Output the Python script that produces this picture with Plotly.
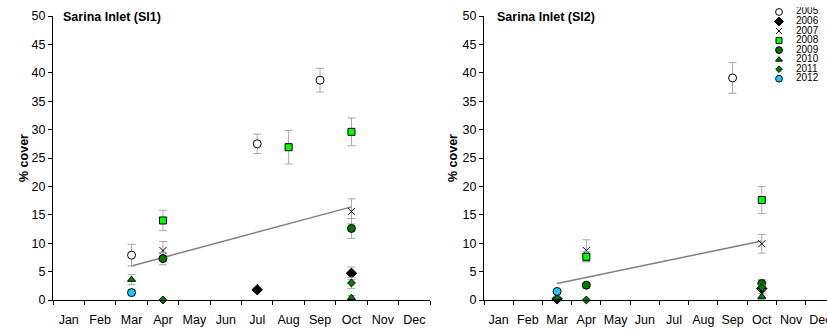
import plotly.graph_objects as go

months = ['Jan', 'Feb', 'Mar', 'Apr', 'May', 'Jun', 'Jul', 'Aug', 'Sep', 'Oct', 'Nov', 'Dec']
years = ['2005', '2006', '2007', '2008', '2009', '2010', '2011', '2012']

# Sarina Inlet (SI1)
si1_x = {'2005': ['Mar', 'Jul', 'Sep'], '2006': ['Jul', 'Oct'], '2007': ['Apr', 'Oct'],
         '2008': ['Apr', 'Aug', 'Oct'], '2009': ['Apr', 'Oct'], '2010': ['Mar', 'Oct'],
         '2011': ['Apr', 'Oct'], '2012': ['Mar']}
si1_y = {'2005': [7.9, 27.5, 38.7], '2006': [1.8, 4.7], '2007': [8.7, 15.6],
         '2008': [14.0, 26.9, 29.6], '2009': [7.3, 12.6], '2010': [3.6, 0.4],
         '2011': [0.0, 3.0], '2012': [1.3]}
si1_err = {'2005': [1.9, 1.7, 2.1], '2006': [0.3, 1.1], '2007': [1.6, 2.2],
           '2008': [1.8, 2.95, 2.45], '2009': [1.1, 1.75], '2010': [0.9, 0.4],
           '2011': [0.0, 1.0], '2012': [0.4]}
si1_trend_x = ['Mar', 'Oct']
si1_trend_y = [6.0, 16.4]

# Sarina Inlet (SI2)
si2_x = {'2005': ['Sep'], '2006': ['Mar', 'Oct'], '2007': ['Apr', 'Oct'],
         '2008': ['Apr', 'Oct'], '2009': ['Apr', 'Oct'], '2010': ['Mar', 'Oct'],
         '2011': ['Apr', 'Oct'], '2012': ['Mar']}
si2_y = {'2005': [39.1], '2006': [0.2, 2.0], '2007': [8.7, 9.9],
         '2008': [7.6, 17.6], '2009': [2.6, 2.9], '2010': [0.4, 0.6],
         '2011': [0.0, 2.2], '2012': [1.5]}
si2_err = {'2005': [2.7], '2006': [0.1, 0.4], '2007': [1.9, 1.65],
           '2008': [0.9, 2.35], '2009': [0.3, 0.7], '2010': [0.2, 0.5],
           '2011': [0.0, 0.4], '2012': [0.3]}
si2_trend_x = ['Mar', 'Oct']
si2_trend_y = [2.9, 10.4]

# marker style per year: symbol, fill, size
style = {
    '2005': ('circle', 'white', 8),
    '2006': ('diamond', 'black', 8),
    '2007': ('x-thin-open', 'black', 7),
    '2008': ('square', '#00ff00', 7),
    '2009': ('circle', '#007800', 8),
    '2010': ('triangle-up', '#008000', 7),
    '2011': ('diamond', '#008000', 6),
    '2012': ('circle', '#1ec8f8', 8),
}

font = 'Liberation Sans, Arial, sans-serif'
fig = go.Figure()


def marker_of(yr, scale=1.0):
    sym, col, size = style[yr]
    if sym == 'x-thin-open':
        return dict(symbol=sym, size=size * scale, color='black', line=dict(color='black', width=1))
    return dict(symbol=sym, size=size * scale, color=col, line=dict(color='black', width=1))


for xs, ys, es, tx, ty, xa, ya in [
        (si1_x, si1_y, si1_err, si1_trend_x, si1_trend_y, 'x', 'y'),
        (si2_x, si2_y, si2_err, si2_trend_x, si2_trend_y, 'x2', 'y2')]:
    fig.add_trace(go.Scatter(x=tx, y=ty, mode='lines', line=dict(color='#808080', width=1.5),
                             xaxis=xa, yaxis=ya, showlegend=False, hoverinfo='skip'))
    for yr in years:
        fig.add_trace(go.Scatter(
            x=xs[yr], y=ys[yr], mode='markers', name=yr, xaxis=xa, yaxis=ya,
            marker=marker_of(yr), showlegend=False, cliponaxis=False,
            error_y=dict(type='data', array=es[yr], color='#a8a8a8', thickness=1, width=4)))

# small legend drawn on its own hidden axes
legend_pos = list(range(len(years)))
for i, yr in enumerate(years):
    fig.add_trace(go.Scatter(x=[19], y=[legend_pos[i]], mode='markers', marker=marker_of(yr, 0.85),
                             xaxis='x3', yaxis='y3', showlegend=False, hoverinfo='skip'))
fig.add_trace(go.Scatter(x=[36] * len(years), y=legend_pos, mode='text', text=years,
                         textposition='middle right', textfont=dict(size=10, color='black', family=font),
                         xaxis='x3', yaxis='y3', showlegend=False, hoverinfo='skip'))

xcommon = dict(type='category', categoryorder='array', categoryarray=months,
               tickson='boundaries', ticks='outside', ticklen=4, tickcolor='black',
               tickangle=0, automargin=False, ticklabelstandoff=8,
               showline=True, linecolor='black', linewidth=1, showgrid=False, zeroline=False,
               tickfont=dict(size=12.5, color='black', family=font))
ycommon = dict(range=[0, 50], dtick=5, ticks='outside', ticklen=4, tickcolor='black',
               automargin=False,
               showline=True, linecolor='black', linewidth=1, showgrid=False, zeroline=False,
               domain=[0, 284 / 300], tickfont=dict(size=12.5, color='black', family=font))

fig.update_layout(
    width=827, height=331,
    margin=dict(l=0, r=0, t=0, b=31),
    paper_bgcolor='white', plot_bgcolor='white',
    font=dict(family=font, color='black'),
    xaxis=dict(xcommon, domain=[53 / 827, 430 / 827], range=[-0.5, 11.5], anchor='y'),
    yaxis=dict(ycommon, anchor='x'),
    xaxis2=dict(xcommon, domain=[484 / 827, 1.0], range=[-0.5, 11.23], anchor='y2'),
    yaxis2=dict(ycommon, anchor='x2'),
    xaxis3=dict(domain=[760 / 827, 1.0], range=[0, 67], visible=False, anchor='y3'),
    yaxis3=dict(domain=[0.7217, 0.976], range=[7.5, -0.5], visible=False, anchor='x3'),
    annotations=[
        dict(text='<b>Sarina Inlet (SI1)</b>', x=61 / 827, y=(300 - 17) / 300, xref='paper', yref='paper',
             xanchor='left', yanchor='middle', showarrow=False, font=dict(size=12.5)),
        dict(text='<b>Sarina Inlet (SI2)</b>', x=495 / 827, y=(300 - 17) / 300, xref='paper', yref='paper',
             xanchor='left', yanchor='middle', showarrow=False, font=dict(size=12.5)),
        dict(text='<b>% cover</b>', x=15 / 827, y=(300 - 158) / 300, xref='paper', yref='paper',
             textangle=-90, showarrow=False, font=dict(size=12.5)),
        dict(text='<b>% cover</b>', x=453 / 827, y=(300 - 158) / 300, xref='paper', yref='paper',
             textangle=-90, showarrow=False, font=dict(size=12.5)),
    ],
)

# page body margin would push the fixed-size figure off the window
fig.write_html('out.html', config={'displayModeBar': False},
               post_script="document.body.style.margin='0';")
